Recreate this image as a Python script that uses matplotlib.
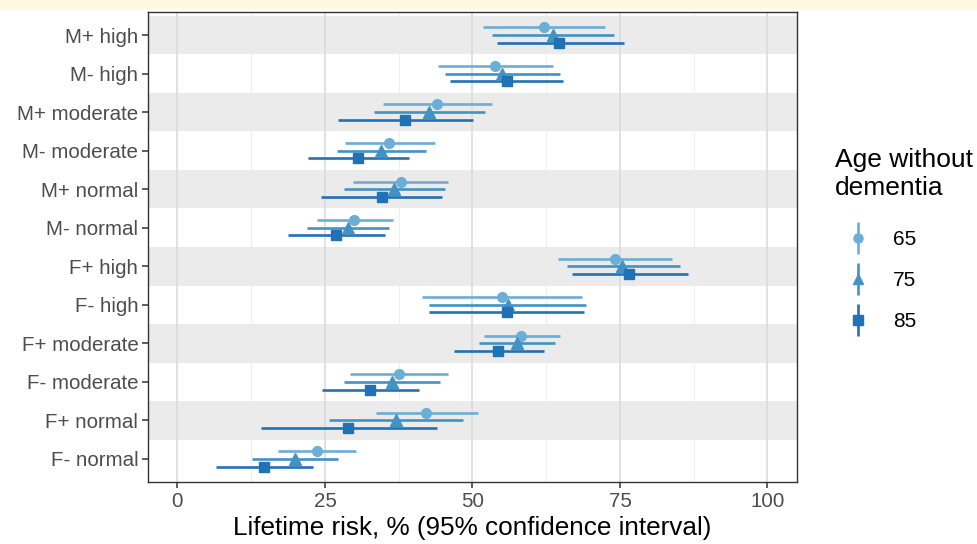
import matplotlib
matplotlib.use('Agg')
import matplotlib.pyplot as plt
from matplotlib.lines import Line2D
from matplotlib.legend_handler import HandlerTuple

plt.rcParams['font.family'] = ['Liberation Sans', 'DejaVu Sans']

# categories, top to bottom
groups = ['M+ high', 'M- high', 'M+ moderate', 'M- moderate', 'M+ normal', 'M- normal',
          'F+ high', 'F- high', 'F+ moderate', 'F- moderate', 'F+ normal', 'F- normal']
ages = ['65', '75', '85']

# lifetime risk point estimates and 95% CI, per age
risk_65 = [62.1, 53.8, 44.0, 35.9, 37.8, 30.0, 74.1, 55.0, 58.3, 37.5, 42.2, 23.7]
lo_65 = [51.7, 44.1, 34.9, 28.4, 29.8, 23.7, 64.5, 41.5, 51.9, 29.2, 33.7, 17.1]
hi_65 = [72.5, 63.6, 53.3, 43.6, 45.9, 36.5, 83.8, 68.5, 64.9, 45.9, 50.9, 30.3]

risk_75 = [63.6, 55.0, 42.6, 34.5, 36.7, 28.9, 75.4, 56.0, 57.5, 36.3, 37.0, 19.9]
lo_75 = [53.3, 45.4, 33.3, 27.0, 28.2, 22.0, 66.0, 42.6, 51.1, 28.2, 25.6, 12.6]
hi_75 = [73.9, 64.8, 52.1, 42.2, 45.3, 35.9, 85.1, 69.3, 63.9, 44.5, 48.4, 27.2]

risk_85 = [64.7, 55.8, 38.5, 30.6, 34.6, 26.9, 76.6, 55.8, 54.4, 32.7, 28.9, 14.6]
lo_85 = [54.1, 46.2, 27.2, 22.1, 24.3, 18.8, 66.8, 42.6, 46.8, 24.5, 14.1, 6.5]
hi_85 = [75.6, 65.4, 50.1, 39.2, 44.9, 35.1, 86.6, 68.9, 62.2, 41.0, 44.0, 23.0]

series = [(risk_65, lo_65, hi_65), (risk_75, lo_75, hi_75), (risk_85, lo_85, hi_85)]
colors = ['#6baed6', '#4292c6', '#2171b5']
markers = ['o', '^', 's']
msizes = [7, 8, 7]
offsets = [0.2, 0.0, -0.2]

fig = plt.figure(figsize=(9.78, 5.44), dpi=100)
fig.patches.append(plt.Rectangle((0, 1 - 8 / 544), 1, 8 / 544, transform=fig.transFigure,
                                 color='#fff8e1', zorder=0))
ax = fig.add_axes([148 / 978, 62 / 544, 649 / 978, 470 / 544])

n = len(groups)
ypos = [n - 1 - i for i in range(n)]

# alternating grey bands
for i, y in enumerate(ypos):
    if i % 2 == 0:
        ax.axhspan(y - 0.5, y + 0.5, color='#ebebeb', zorder=0.2, lw=0)

for (risk, lo, hi), c, m, ms, off in zip(series, colors, markers, msizes, offsets):
    yy = [y + off for y in ypos]
    ax.hlines(yy, lo, hi, color=c, lw=1.9, zorder=3)
    ax.plot(risk, yy, linestyle='none', marker=m, color=c, markersize=ms, zorder=4)

ax.set_xlim(-5, 105)
ax.set_ylim(-0.6, n - 0.4)
ax.set_xticks([0, 25, 50, 75, 100])
ax.set_xticks([12.5, 37.5, 62.5, 87.5], minor=True)
ax.set_yticks(ypos)
ax.set_yticklabels(groups)
ax.set_axisbelow(True)
ax.grid(axis='x', which='major', color='#d9d9d9', lw=1.1)
ax.grid(axis='x', which='minor', color='#ebebeb', lw=0.6)
ax.tick_params(axis='both', which='major', labelsize=14.8, labelcolor='#4d4d4d',
               color='#333333', length=4, width=1.1, pad=3)
ax.tick_params(axis='x', which='minor', length=0)
for sp in ax.spines.values():
    sp.set_color('#333333')
    sp.set_linewidth(1.0)
ax.set_xlabel('Lifetime risk, % (95% confidence interval)', fontsize=18.8, labelpad=4)

# legend: vertical line with point, as in pointrange keys
handles = []
for c, m, ms in zip(colors, markers, msizes):
    bar = Line2D([], [], linestyle='none', marker='|', markersize=23, markeredgewidth=1.9, color=c)
    pt = Line2D([], [], linestyle='none', marker=m, markersize=ms - 0.5, color=c)
    handles.append((bar, pt))
leg = fig.legend(handles, ages, handler_map={tuple: HandlerTuple(ndivide=1)},
                 loc='upper left', bbox_to_anchor=(835 / 978, 1 - 148 / 544),
                 title='Age without\ndementia', title_fontsize=19, fontsize=15,
                 frameon=False, labelspacing=1.05, handlelength=2.2, handletextpad=0.6,
                 alignment='left', borderpad=0, borderaxespad=0)
leg._legend_box.sep = 22

fig.savefig('out.png', dpi=100)
